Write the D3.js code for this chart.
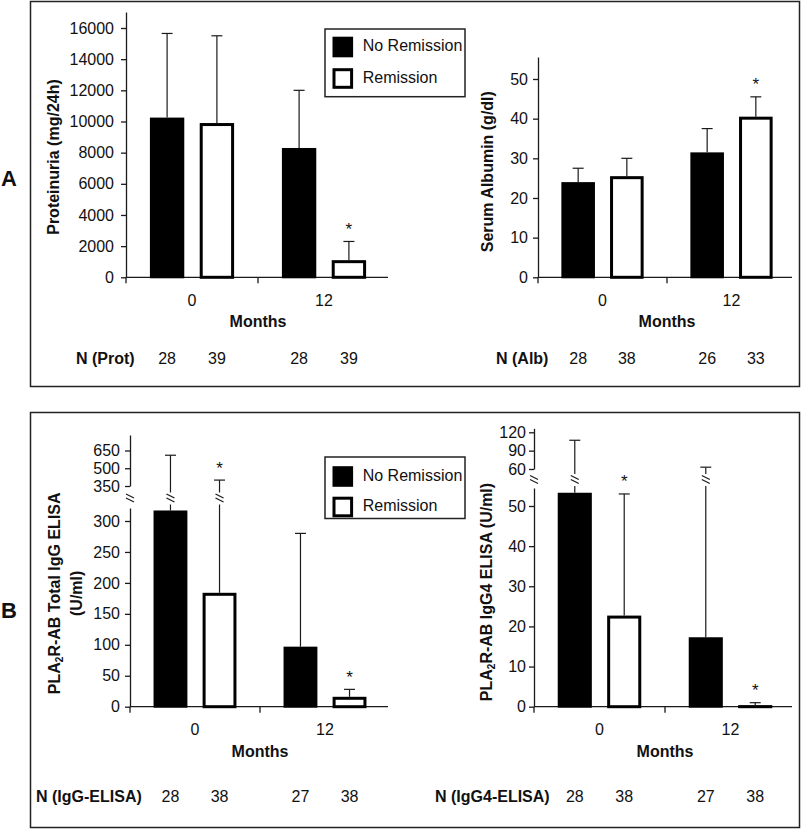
<!DOCTYPE html>
<html>
<head>
<meta charset="utf-8">
<script src="https://cdn.jsdelivr.net/npm/d3@7"></script>
<style>
  body { margin: 0; background: #fff; }
  svg text { font-family: "Liberation Sans", Arial, sans-serif; fill: #111; }
</style>
</head>
<body>
<svg id="chart" width="810" height="830"></svg>
<script>
// categories
const months = ["0", "12"];
const series = ["No Remission", "Remission"];

// proteinuria (mg/24h): bar means and top of error bar, per month
const protNoRem = [10250, 8300];
const protRem = [9900, 1100];
const protNoRemTop = [15650, 12000];
const protRemTop = [15500, 2300];
const protTicks = [0, 2000, 4000, 6000, 8000, 10000, 12000, 14000, 16000];
const nProt = [28, 39, 28, 39];

// serum albumin (g/dl)
const albNoRem = [24, 31.5];
const albRem = [25.5, 40.5];
const albNoRemTop = [27.5, 37.5];
const albRemTop = [30, 45.5];
const albTicks = [0, 10, 20, 30, 40, 50];
const nAlb = [28, 38, 26, 33];

// PLA2R-AB total IgG ELISA (U/ml)
const iggNoRem = [317, 97];
const iggRem = [184, 16];
const iggNoRemTop = [610, 280];
const iggRemTop = [400, 28];
const iggTicksLow = [0, 50, 100, 150, 200, 250, 300];
const iggTicksHigh = [350, 500, 650];
const nIgg = [28, 38, 27, 38];

// PLA2R-AB IgG4 ELISA (U/ml)
const igg4NoRem = [53.3, 17.3];
const igg4Rem = [22.7, 0.4];
const igg4NoRemTop = [107, 63];
const igg4RemTop = [53, 1.0];
const igg4TicksLow = [0, 10, 20, 30, 40, 50];
const igg4TicksHigh = [60, 90, 120];
const nIgg4 = [28, 38, 27, 38];

// significance stars: [month index, series index]
const protStars = [[1, 1]];
const albStars = [[1, 1]];
const iggStars = [[0, 1], [1, 1]];
const igg4Stars = [[0, 1], [1, 1]];

const svg = d3.select("#chart");
const FS = 16;
const ink = "#1a1a1a";

// outer frames
svg.append("rect").attr("x", 30.5).attr("y", 1.5).attr("width", 769).attr("height", 385)
  .attr("fill", "none").attr("stroke", "#222").attr("stroke-width", 1.5);
svg.append("rect").attr("x", 30.5).attr("y", 412.5).attr("width", 769).attr("height", 415)
  .attr("fill", "none").attr("stroke", "#222").attr("stroke-width", 1.5);

svg.append("text").attr("x", 9).attr("y", 178).attr("dy", "0.35em").attr("text-anchor", "middle")
  .attr("font-size", 22).attr("font-weight", "bold").text("A");
svg.append("text").attr("x", 9).attr("y", 610).attr("dy", "0.35em").attr("text-anchor", "middle")
  .attr("font-size", 22).attr("font-weight", "bold").text("B");

//break mark (two short slanted strokes)
function breakMark(g, x, y) {
  [-2, 2].forEach(o => {
    g.append("line")
      .attr("x1", x - 4).attr("y1", y + o - 2.5)
      .attr("x2", x + 4).attr("y2", y + o + 1.5)
      .attr("stroke", ink).attr("stroke-width", 1.2);
  });
}

function styleAxis(a) {
  a.selectAll("path, line").attr("stroke", ink).attr("stroke-width", 1.3);
  a.selectAll("text").attr("font-size", FS).attr("fill", "#111")
    .style("font-family", '"Liberation Sans", Arial, sans-serif');
}

function drawPanel(c) {
  const g = svg.append("g");
  const x = d3.scaleBand().domain(months).range([c.x0, c.x1]);
  const xs = d3.scaleBand().domain(series).range([0, x.bandwidth()])
    .paddingInner(0.31).paddingOuter(0.48);

  // lower (or only) y scale, extended up to the axis top
  const yLow = d3.scaleLinear().domain([0, c.lowRef]).range([c.y0, c.lowRefY]);
  yLow.domain([0, yLow.invert(c.lowTop)]).range([c.y0, c.lowTop]);
  let yHigh = null;
  if (c.highTicks) {
    const t = c.highTicks;
    yHigh = d3.scaleLinear().domain([t[0], t[t.length - 1]]).range([c.highBottom, c.highRefY]);
    yHigh.domain([t[0], yHigh.invert(c.highTop)]).range([c.highBottom, c.highTop]);
  }
  const lowMax = yLow.domain()[1];

  // y axes
  const yAx = g.append("g").attr("transform", `translate(${c.x0},0)`)
    .call(d3.axisLeft(yLow).tickValues(c.lowTicks).tickSize(5).tickSizeOuter(0)
      .tickPadding(c.tickPad).tickFormat(d3.format("d")));
  styleAxis(yAx);
  if (yHigh) {
    const yAx2 = g.append("g").attr("transform", `translate(${c.x0},0)`)
      .call(d3.axisLeft(yHigh).tickValues(c.highTicks).tickSize(5).tickSizeOuter(0)
        .tickPadding(c.tickPad).tickFormat(d3.format("d")));
    styleAxis(yAx2);
    breakMark(g, c.x0, c.breakY);
  }

  // x axis
  const xAx = g.append("g").attr("transform", `translate(0,${c.y0})`)
    .call(d3.axisBottom(x).tickSize(0).tickSizeOuter(0).tickPadding(17));
  styleAxis(xAx);
  xAx.select(".domain").attr("d", `M${c.x0},0H${c.xEnd}`);
  [c.x0, c.x0 + x.step()].forEach(px => {
    g.append("line").attr("x1", px).attr("x2", px).attr("y1", c.y0).attr("y2", c.y0 + 6)
      .attr("stroke", ink).attr("stroke-width", 1.3);
  });

  // bars and error bars
  const rows = [];
  months.forEach((m, i) => {
    rows.push({ m, s: series[0], si: 0, mi: i, v: c.noRem[i], top: c.noRemTop[i], n: c.n[i * 2] });
    rows.push({ m, s: series[1], si: 1, mi: i, v: c.rem[i], top: c.remTop[i], n: c.n[i * 2 + 1] });
  });
  const bx = d => x(d.m) + xs(d.s);
  const bw = xs.bandwidth();

  rows.forEach(d => {
    const cx = bx(d) + bw / 2;
    const yTop = yLow(d.v);
    // error bar
    let capY;
    if (yHigh && d.top > lowMax) {
      capY = yHigh(d.top);
      g.append("line").attr("x1", cx).attr("x2", cx).attr("y1", yTop).attr("y2", c.breakY + 6)
        .attr("stroke", ink).attr("stroke-width", 1.2);
      g.append("line").attr("x1", cx).attr("x2", cx).attr("y1", c.breakY - 6).attr("y2", capY)
        .attr("stroke", ink).attr("stroke-width", 1.2);
      breakMark(g, cx, c.breakY);
    } else {
      capY = yLow(d.top);
      g.append("line").attr("x1", cx).attr("x2", cx).attr("y1", yTop).attr("y2", capY)
        .attr("stroke", ink).attr("stroke-width", 1.2);
    }
    g.append("line").attr("x1", cx - 5.5).attr("x2", cx + 5.5).attr("y1", capY).attr("y2", capY)
      .attr("stroke", ink).attr("stroke-width", 1.2);
    d.capY = capY;

    // bar
    if (d.si === 0) {
      g.append("rect").attr("x", bx(d)).attr("y", yTop).attr("width", bw)
        .attr("height", c.y0 - yTop + 1).attr("fill", "#000");
    } else {
      g.append("rect").attr("x", bx(d) + 1.5).attr("y", yTop + 1.5).attr("width", bw - 3)
        .attr("height", Math.max(c.y0 - yTop - 1.5, 0)).attr("fill", "#fff")
        .attr("stroke", "#000").attr("stroke-width", 3);
    }

    // N count
    g.append("text").attr("x", cx).attr("y", c.nY).attr("dy", "0.35em")
      .attr("text-anchor", "middle").attr("font-size", FS).text(d.n);
  });

  // stars
  c.stars.forEach(([mi, si]) => {
    const d = rows.find(r => r.mi === mi && r.si === si);
    g.append("text").attr("x", bx(d) + bw / 2).attr("y", d.capY - 16 + 9.5)
      .attr("text-anchor", "middle").attr("font-size", 17).text("*");
  });

  // labels
  g.append("text").attr("x", c.x0 + x.step()).attr("y", c.y0 + 44.5).attr("dy", "0.35em")
    .attr("text-anchor", "middle").attr("font-size", FS).attr("font-weight", "bold").text("Months");
  g.append("text").attr("x", c.nLabelX).attr("y", c.nY).attr("dy", "0.35em")
    .attr("font-size", FS).attr("font-weight", "bold").text(c.nLabel);

  c.yLabel.forEach(l => {
    const t = g.append("text").attr("transform", `translate(${l.x},${c.yLabelY}) rotate(-90)`)
      .attr("dy", "0.35em").attr("text-anchor", "middle")
      .attr("font-size", FS).attr("font-weight", "bold");
    if (l.sub) {
      t.append("tspan").text(l.pre);
      t.append("tspan").attr("font-size", 10).attr("dy", 3).text(l.sub);
      t.append("tspan").attr("dy", -3).text(l.post);
    } else {
      t.text(l.text);
    }
  });
}

function drawLegend(x, y, w, h, rowsY, textY) {
  const g = svg.append("g");
  g.append("rect").attr("x", x).attr("y", y).attr("width", w).attr("height", h)
    .attr("fill", "#fff").attr("stroke", "#222").attr("stroke-width", 1.5);
  series.forEach((s, i) => {
    if (i === 0) {
      g.append("rect").attr("x", x + 7.5).attr("y", rowsY[i] - 10.3).attr("width", 20.6).attr("height", 20.6)
        .attr("fill", "#000");
    } else {
      g.append("rect").attr("x", x + 9).attr("y", rowsY[i] - 8.8).attr("width", 17.6).attr("height", 17.6)
        .attr("fill", "#fff").attr("stroke", "#000").attr("stroke-width", 3);
    }
    g.append("text").attr("x", x + 37.7).attr("y", textY[i]).attr("dy", "0.35em")
      .attr("font-size", FS).text(s);
  });
}

drawPanel({
  x0: 126, x1: 390, xEnd: 388, y0: 277.3, lowRef: 16000, lowRefY: 28, lowTop: 12,
  lowTicks: protTicks, tickPad: 7,
  noRem: protNoRem, rem: protRem, noRemTop: protNoRemTop, remTop: protRemTop,
  n: nProt, stars: protStars, nY: 358, nLabel: "N (Prot)", nLabelX: 76,
  yLabelY: 157, yLabel: [{ x: 53, text: "Proteinuria (mg/24h)" }]
});

drawPanel({
  x0: 538, x1: 796, xEnd: 792, y0: 277.3, lowRef: 50, lowRefY: 79, lowTop: 57,
  lowTicks: albTicks, tickPad: 5,
  noRem: albNoRem, rem: albRem, noRemTop: albNoRemTop, remTop: albRemTop,
  n: nAlb, stars: albStars, nY: 358, nLabel: "N (Alb)", nLabelX: 496,
  yLabelY: 171.7, yLabel: [{ x: 487, text: "Serum Albumin (g/dl)" }]
});

drawPanel({
  x0: 130, x1: 390, xEnd: 388, y0: 706.7, lowRef: 300, lowRefY: 521, lowTop: 508,
  lowTicks: iggTicksLow, highTicks: iggTicksHigh, highBottom: 486, highRefY: 450.5, highTop: 435,
  breakY: 498.5, tickPad: 5,
  noRem: iggNoRem, rem: iggRem, noRemTop: iggNoRemTop, remTop: iggRemTop,
  n: nIgg, stars: iggStars, nY: 796.7, nLabel: "N (IgG-ELISA)", nLabelX: 36,
  yLabelY: 593.3,
  yLabel: [{ x: 54, sub: "2", pre: "PLA", post: "R-AB Total IgG ELISA" }, { x: 76.7, text: "(U/ml)" }]
});

drawPanel({
  x0: 534, x1: 796, xEnd: 792, y0: 706.7, lowRef: 50, lowRefY: 506, lowTop: 488,
  lowTicks: igg4TicksLow, highTicks: igg4TicksHigh, highBottom: 469, highRefY: 432.3, highTop: 428.3,
  breakY: 480, tickPad: 3,
  noRem: igg4NoRem, rem: igg4Rem, noRemTop: igg4NoRemTop, remTop: igg4RemTop,
  n: nIgg4, stars: igg4Stars, nY: 796.7, nLabel: "N (IgG4-ELISA)", nLabelX: 435,
  yLabelY: 592,
  yLabel: [{ x: 486, sub: "2", pre: "PLA", post: "R-AB IgG4 ELISA (U/ml)" }]
});

drawLegend(325, 29, 140, 67.7, [47, 78.5], [45, 77]);
drawLegend(325, 457, 140, 61.5, [476.5, 507], [475, 505]);
</script>
</body>
</html>
